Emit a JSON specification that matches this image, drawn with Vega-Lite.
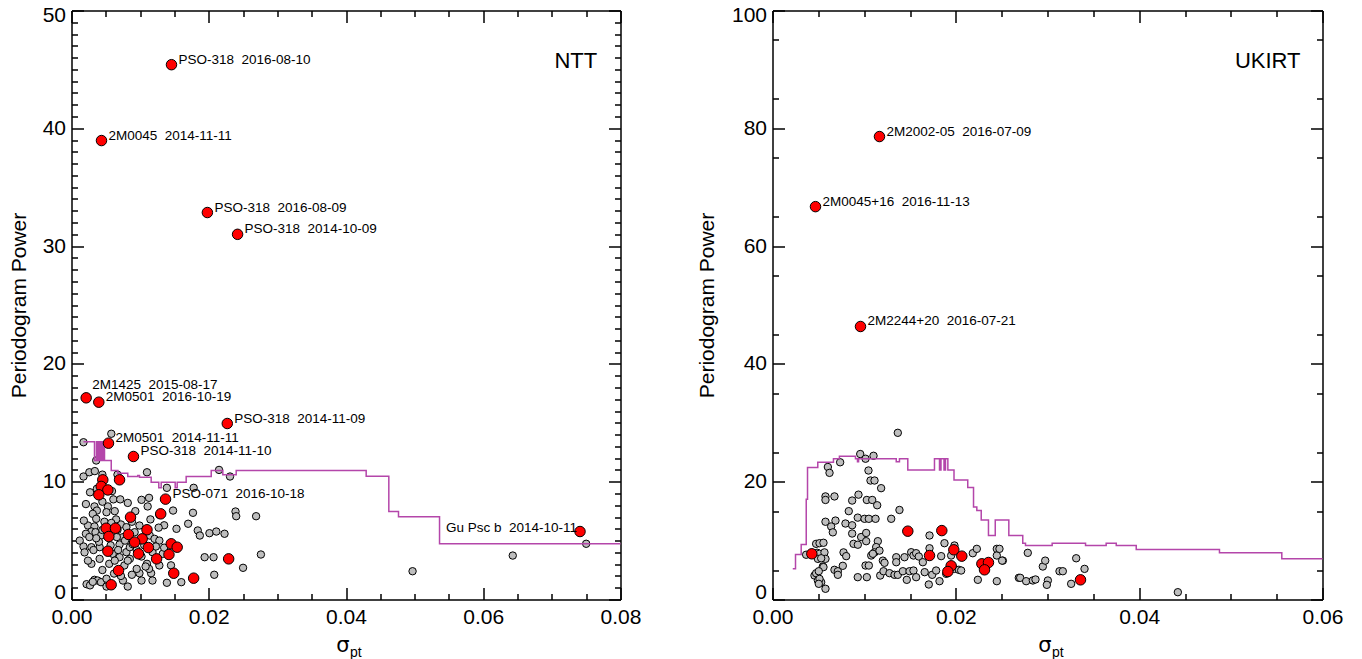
{
  "$schema": "https://vega.github.io/schema/vega-lite/v6.json",
  "background": "white",
  "autosize": {"type": "pad"},
  "padding": {"left": 8.5, "top": 4.5, "right": 0, "bottom": 0},
  "bounds": "flush",
  "spacing": 152,
  "config": {
    "view": {"stroke": null},
    "font": "Liberation Sans",
    "axis": {
      "grid": false,
      "domainColor": "#000",
      "domainWidth": 1.5,
      "tickColor": "#000",
      "tickWidth": 1.5,
      "labelColor": "#000",
      "labelFont": "Liberation Sans",
      "labelFontSize": 21,
      "titleColor": "#000",
      "titleFont": "Liberation Sans",
      "titleFontSize": 21,
      "titleFontWeight": "normal"
    }
  },
  "datasets": {
    "ntt_gray": [
      {"s":0.00175,"p":13.35},{"s":0.0058,"p":14.07},{"s":0.0036,"p":11.8},{"s":0.00175,"p":10.44},{"s":0.0026,"p":10.8},{"s":0.0034,"p":10.9},{"s":0.0067,"p":10.6},{"s":0.011,"p":10.8},{"s":0.0215,"p":11.0},{"s":0.0231,"p":10.44},{"s":0.0139,"p":9.48},{"s":0.0178,"p":9.48},{"s":0.0059,"p":9.2},{"s":0.0061,"p":8.5},{"s":0.0071,"p":8.5},{"s":0.0102,"p":8.46},{"s":0.0113,"p":8.63},{"s":0.0111,"p":7.9},{"s":0.0148,"p":7.55},{"s":0.0177,"p":7.36},{"s":0.0239,"p":7.47},{"s":0.024,"p":7.07},{"s":0.0269,"p":7.07},{"s":0.0128,"p":7.19},{"s":0.00335,"p":7.9},{"s":0.0037,"p":7.55},{"s":0.0031,"p":7.27},{"s":0.0053,"p":7.9},{"s":0.0051,"p":7.41},{"s":0.0036,"p":6.85},{"s":0.0024,"p":6.28},{"s":0.00335,"p":6.2},{"s":0.0029,"p":5.77},{"s":0.0021,"p":5.58},{"s":0.0035,"p":5.71},{"s":0.0043,"p":5.43},{"s":0.0072,"p":6.37},{"s":0.008,"p":6.14},{"s":0.0099,"p":6.28},{"s":0.0092,"p":5.71},{"s":0.0075,"p":5.29},{"s":0.0114,"p":5.43},{"s":0.0121,"p":5.15},{"s":0.0128,"p":5.0},{"s":0.0153,"p":6.0},{"s":0.017,"p":6.43},{"s":0.0184,"p":5.86},{"s":0.0187,"p":5.43},{"s":0.0201,"p":5.63},{"s":0.0211,"p":5.77},{"s":0.0223,"p":5.58},{"s":0.00175,"p":4.5},{"s":0.0029,"p":4.44},{"s":0.0041,"p":4.44},{"s":0.007,"p":4.67},{"s":0.006,"p":3.88},{"s":0.008,"p":4.02},{"s":0.0085,"p":4.44},{"s":0.007,"p":3.59},{"s":0.0085,"p":3.45},{"s":0.0102,"p":3.65},{"s":0.0118,"p":4.02},{"s":0.0133,"p":3.88},{"s":0.011,"p":3.03},{"s":0.0128,"p":2.89},{"s":0.0194,"p":3.59},{"s":0.0207,"p":3.59},{"s":0.0276,"p":3.82},{"s":0.025,"p":2.69},{"s":0.0029,"p":3.03},{"s":0.0041,"p":3.45},{"s":0.0055,"p":3.03},{"s":0.0077,"p":2.89},{"s":0.00335,"p":1.67},{"s":0.0038,"p":1.61},{"s":0.0043,"p":1.47},{"s":0.0051,"p":1.76},{"s":0.0075,"p":1.61},{"s":0.0082,"p":1.1},{"s":0.0099,"p":2.23},{"s":0.0102,"p":1.61},{"s":0.0116,"p":2.23},{"s":0.0118,"p":1.61},{"s":0.0139,"p":1.42},{"s":0.016,"p":1.47},{"s":0.0208,"p":2.1},{"s":0.0051,"p":1.1},{"s":0.0497,"p":2.4},{"s":0.0643,"p":3.73},{"s":0.075,"p":4.73},{"s":0.0012,"p":5.0},{"s":0.0018,"p":6.7},{"s":0.0024,"p":3.3},{"s":0.0045,"p":2.5},{"s":0.0062,"p":2.2},{"s":0.0066,"p":5.3},{"s":0.0088,"p":6.6},{"s":0.0095,"p":4.2},{"s":0.0106,"p":4.6},{"s":0.0135,"p":6.3},{"s":0.0145,"p":2.9},{"s":0.0095,"p":2.6},{"s":0.0065,"p":6.8},{"s":0.0048,"p":6.6},{"s":0.004,"p":4.9},{"s":0.0057,"p":4.6},{"s":0.0027,"p":9.1},{"s":0.0045,"p":10.6},
      {"s":0.0022,"p":1.3},{"s":0.0027,"p":1.2},{"s":0.0031,"p":1.5},{"s":0.0082,"p":3.3},{"s":0.0113,"p":2.6},{"s":0.0058,"p":6.5},{"s":0.0067,"p":5.9},{"s":0.0078,"p":5.0},{"s":0.0089,"p":4.7},{"s":0.0068,"p":4.2},{"s":0.0045,"p":5.9},{"s":0.0036,"p":5.2},{"s":0.0032,"p":4.2},{"s":0.0026,"p":5.3},{"s":0.0019,"p":4.0},{"s":0.0063,"p":3.3},{"s":0.0072,"p":2.0},{"s":0.0088,"p":2.1},{"s":0.0108,"p":2.8},{"s":0.0123,"p":4.5},{"s":0.0135,"p":4.4},{"s":0.0127,"p":6.1},{"s":0.0115,"p":6.8},{"s":0.0093,"p":7.5},{"s":0.0082,"p":8.2},{"s":0.0063,"p":7.5},{"s":0.0045,"p":8.3},{"s":0.0037,"p":9.4},{"s":0.0021,"p":8.1}
    ],
    "ntt_red": [
      {"s":0.01457,"p":45.4,"label":"PSO-318\u00a0 2016-08-10"},
      {"s":0.00437,"p":38.96,"label":"2M0045\u00a0 2014-11-11"},
      {"s":0.0198,"p":32.85,"label":"PSO-318\u00a0 2016-08-09"},
      {"s":0.0242,"p":31.0,"label":"PSO-318\u00a0 2014-10-09"},
      {"s":0.00214,"p":17.12,"label":"2M1425\u00a0 2015-08-17"},
      {"s":0.00398,"p":16.75,"label":"2M0501\u00a0 2016-10-19"},
      {"s":0.0227,"p":14.94,"label":"PSO-318\u00a0 2014-11-09"},
      {"s":0.00539,"p":13.27,"label":"2M0501\u00a0 2014-11-11"},
      {"s":0.00903,"p":12.14,"label":"PSO-318\u00a0 2014-11-10"},
      {"s":0.0137,"p":8.52,"label":"PSO-071\u00a0 2016-10-18"},
      {"s":0.0741,"p":5.77,"label":"Gu Psc b\u00a0 2014-10-11"},
      {"s":0.00456,"p":10.16},{"s":0.007,"p":10.16},{"s":0.00433,"p":9.6},{"s":0.0053,"p":9.3},{"s":0.00398,"p":8.89},{"s":0.013,"p":7.27},{"s":0.0086,"p":6.99},{"s":0.00505,"p":6.05},{"s":0.0064,"p":6.05},{"s":0.011,"p":5.92},{"s":0.00544,"p":5.35},{"s":0.0083,"p":5.52},{"s":0.0103,"p":5.15},{"s":0.0092,"p":4.87},{"s":0.01453,"p":4.73},{"s":0.0154,"p":4.44},{"s":0.0112,"p":4.41},{"s":0.0053,"p":4.1},{"s":0.00976,"p":3.88},{"s":0.0142,"p":3.82},{"s":0.0124,"p":3.45},{"s":0.0229,"p":3.45},{"s":0.00685,"p":2.46},{"s":0.0149,"p":2.23},{"s":0.0178,"p":1.81},{"s":0.00578,"p":1.25}
    ],
    "ntt_line": [
      {"s":0.00175,"p":13.4},{"s":0.00335,"p":11.8},{"s":0.00364,"p":13.4},{"s":0.00383,"p":11.8},{"s":0.004,"p":13.4},{"s":0.00415,"p":11.8},{"s":0.0043,"p":13.4},{"s":0.00444,"p":11.8},{"s":0.00459,"p":13.4},{"s":0.00481,"p":11.8},{"s":0.00579,"p":10.95},{"s":0.00675,"p":10.72},{"s":0.0082,"p":10.44},{"s":0.00966,"p":10.53},{"s":0.00991,"p":10.38},{"s":0.01161,"p":9.96},{"s":0.01272,"p":9.48},{"s":0.01307,"p":9.96},{"s":0.01511,"p":9.48},{"s":0.0154,"p":9.96},{"s":0.01671,"p":10.44},{"s":0.02036,"p":10.95},{"s":0.02205,"p":10.6},{"s":0.024,"p":10.95},{"s":0.04294,"p":10.47},{"s":0.04624,"p":7.47},{"s":0.04765,"p":7.02},{"s":0.05363,"p":4.73},{"s":0.08,"p":4.73}
    ],
    "ntt_name": [{"s":0.0766,"p":45.75,"name":"NTT"}],
    "ukirt_gray": [
      {"s":0.01367,"p":28.3},{"s":0.00957,"p":24.7},{"s":0.01015,"p":23.9},{"s":0.01102,"p":24.4},{"s":0.00604,"p":22.5},{"s":0.00622,"p":21.5},{"s":0.00738,"p":23.3},{"s":0.01047,"p":21.9},{"s":0.01069,"p":20.2},{"s":0.01113,"p":20.2},{"s":0.01185,"p":18.9},{"s":0.00578,"p":17.5},{"s":0.00578,"p":16.9},{"s":0.00676,"p":17.5},{"s":0.00869,"p":16.8},{"s":0.00938,"p":17.8},{"s":0.01029,"p":16.9},{"s":0.01088,"p":16.9},{"s":0.01142,"p":16.0},{"s":0.01385,"p":15.2},{"s":0.00832,"p":15.0},{"s":0.01295,"p":13.7},{"s":0.00578,"p":13.2},{"s":0.00687,"p":13.4},{"s":0.0064,"p":12.4},{"s":0.00658,"p":11.4},{"s":0.00796,"p":12.9},{"s":0.00869,"p":12.6},{"s":0.0093,"p":13.9},{"s":0.01004,"p":13.7},{"s":0.01051,"p":13.7},{"s":0.01124,"p":13.7},{"s":0.00869,"p":11.2},{"s":0.00967,"p":10.6},{"s":0.01022,"p":11.3},{"s":0.01022,"p":9.9},{"s":0.00884,"p":9.45},{"s":0.00931,"p":9.3},{"s":0.01149,"p":9.9},{"s":0.01131,"p":8.9},{"s":0.01113,"p":8.0},{"s":0.01077,"p":7.47},{"s":0.01095,"p":7.76},{"s":0.01167,"p":8.3},{"s":0.00775,"p":8.0},{"s":0.00804,"p":7.36},{"s":0.00476,"p":9.45},{"s":0.00513,"p":9.56},{"s":0.00556,"p":9.63},{"s":0.00367,"p":7.6},{"s":0.00487,"p":7.93},{"s":0.00513,"p":7.76},{"s":0.00495,"p":6.9},{"s":0.00567,"p":8.0},{"s":0.00578,"p":6.9},{"s":0.00531,"p":7.0},{"s":0.00549,"p":5.6},{"s":0.00556,"p":5.5},{"s":0.00458,"p":4.07},{"s":0.00476,"p":4.46},{"s":0.00505,"p":4.8},{"s":0.00495,"p":3.23},{"s":0.00531,"p":2.94},{"s":0.00513,"p":3.5},{"s":0.00578,"p":1.82},{"s":0.00505,"p":2.66},{"s":0.00676,"p":5.04},{"s":0.00713,"p":4.8},{"s":0.00713,"p":4.19},{"s":0.00767,"p":5.72},{"s":0.0093,"p":3.79},{"s":0.01029,"p":3.79},{"s":0.01015,"p":5.77},{"s":0.01051,"p":5.77},{"s":0.01204,"p":6.6},{"s":0.01222,"p":6.23},{"s":0.01175,"p":4.07},{"s":0.01211,"p":4.8},{"s":0.01276,"p":4.47},{"s":0.01331,"p":4.19},{"s":0.01367,"p":4.19},{"s":0.01422,"p":4.8},{"s":0.01465,"p":3.34},{"s":0.01495,"p":4.8},{"s":0.01538,"p":4.92},{"s":0.01567,"p":3.79},{"s":0.0166,"p":4.64},{"s":0.01705,"p":2.55},{"s":0.01742,"p":4.19},{"s":0.01785,"p":4.92},{"s":0.01822,"p":3.11},{"s":0.01895,"p":4.36},{"s":0.01985,"p":5.2},{"s":0.02033,"p":5.04},{"s":0.02058,"p":4.92},{"s":0.0224,"p":3.34},{"s":0.02447,"p":3.11},{"s":0.02687,"p":3.68},{"s":0.0135,"p":7.18},{"s":0.0135,"p":6.33},{"s":0.0144,"p":7.18},{"s":0.01513,"p":8.03},{"s":0.01538,"p":7.47},{"s":0.01567,"p":7.86},{"s":0.01596,"p":7.3},{"s":0.0164,"p":6.33},{"s":0.01713,"p":10.87},{"s":0.01713,"p":8.7},{"s":0.0184,"p":7.36},{"s":0.01876,"p":9.56},{"s":0.01985,"p":9.17},{"s":0.01949,"p":7.47},{"s":0.02185,"p":7.86},{"s":0.02229,"p":8.6},{"s":0.02447,"p":8.6},{"s":0.02447,"p":7.47},{"s":0.02513,"p":6.6},{"s":0.02476,"p":8.6},{"s":0.02505,"p":6.6},{"s":0.02785,"p":7.92},{"s":0.02702,"p":3.68},{"s":0.02767,"p":3.11},{"s":0.0284,"p":3.23},{"s":0.02869,"p":3.4},{"s":0.02949,"p":5.6},{"s":0.02975,"p":6.6},{"s":0.03004,"p":3.23},{"s":0.02993,"p":2.49},{"s":0.03131,"p":4.8},{"s":0.03167,"p":4.8},{"s":0.03258,"p":2.66},{"s":0.03313,"p":7.0},{"s":0.03404,"p":5.2},{"s":0.04422,"p":1.24}
    ],
    "ukirt_red": [
      {"s":0.01167,"p":78.6,"label":"2M2002-05\u00a0 2016-07-09"},
      {"s":0.00469,"p":66.7,"label":"2M0045+16\u00a0 2016-11-13"},
      {"s":0.0096,"p":46.35,"label":"2M2244+20\u00a0 2016-07-21"},
      {"s":0.00429,"p":7.76},{"s":0.01476,"p":11.6},{"s":0.01847,"p":11.7},{"s":0.01713,"p":7.47},{"s":0.01978,"p":8.44},{"s":0.02065,"p":7.36},{"s":0.01949,"p":5.72},{"s":0.01913,"p":4.75},{"s":0.02284,"p":6.06},{"s":0.02356,"p":6.28},{"s":0.02313,"p":5.04},{"s":0.0336,"p":3.34}
    ],
    "ukirt_line": [
      {"s":0.00221,"p":5.2},{"s":0.00251,"p":7.64},{"s":0.00313,"p":9.34},{"s":0.00368,"p":17.0},{"s":0.00382,"p":22.4},{"s":0.00494,"p":23.3},{"s":0.00665,"p":23.9},{"s":0.0073,"p":24.3},{"s":0.00905,"p":23.9},{"s":0.00927,"p":23.4},{"s":0.00939,"p":23.9},{"s":0.0135,"p":23.4},{"s":0.01385,"p":23.9},{"s":0.01476,"p":22.0},{"s":0.01767,"p":23.9},{"s":0.01822,"p":22.0},{"s":0.01838,"p":23.9},{"s":0.01871,"p":22.0},{"s":0.01887,"p":23.9},{"s":0.01913,"p":22.0},{"s":0.0198,"p":20.3},{"s":0.0213,"p":19.0},{"s":0.02193,"p":15.7},{"s":0.02229,"p":15.1},{"s":0.02277,"p":13.5},{"s":0.02356,"p":10.87},{"s":0.0243,"p":13.5},{"s":0.02578,"p":10.87},{"s":0.0273,"p":9.56},{"s":0.0276,"p":9.17},{"s":0.03051,"p":9.56},{"s":0.03415,"p":9.17},{"s":0.0364,"p":9.56},{"s":0.0375,"p":9.17},{"s":0.03968,"p":8.49},{"s":0.04876,"p":7.92},{"s":0.05556,"p":6.9},{"s":0.06,"p":6.9}
    ],
    "ukirt_name": [{"s":0.0576,"p":91.5,"name":"UKIRT"}]
  },
  "hconcat": [
    {
      "width": 549,
      "height": 589,
      "resolve": {"axis": {"x": "independent", "y": "independent"}},
      "layer": [
        {
          "data": {"name": "ntt_gray"},
          "mark": {"type": "circle", "fill": "#bebebe", "stroke": "#000", "strokeWidth": 1, "size": 55, "opacity": 1},
          "encoding": {
            "x": {"field": "s", "type": "quantitative", "scale": {"domain": [0, 0.08], "nice": false, "zero": false},
              "axis": {"orient": "bottom", "values": [0, 0.02, 0.04, 0.06, 0.08], "format": ".2f", "tickSize": -12, "labelPadding": 19, "labelFlush": false, "domain": true,
                "title": "σ", "titleFont": "DejaVu Sans", "titleFontSize": 21, "titleX": 271, "titleY": 52, "titleAlign": "center", "titleBaseline": "alphabetic"}},
            "y": {"field": "p", "type": "quantitative", "scale": {"domain": [0, 50], "nice": false},
              "axis": {"orient": "left", "values": [0, 10, 20, 30, 40, 50], "format": "d", "tickSize": -12, "labelPadding": 18, "labelFlush": false, "labelBaseline": "middle",
                "labelOffset": {"condition": [{"test": "datum.value === 50", "value": 5}, {"test": "datum.value === 0", "value": -7}], "value": 0},
                "domain": true,
                "title": "Periodogram Power", "titleX": -52, "titleY": 294.5, "titleAngle": -90, "titleAlign": "center", "titleBaseline": "middle"}}
          }
        },
        {
          "data": {"name": "ntt_line"},
          "mark": {"type": "line", "interpolate": "step-after", "color": "#b446aa", "strokeWidth": 1.5},
          "encoding": {
            "x": {"field": "s", "type": "quantitative", "scale": {"domain": [0, 0.08], "nice": false, "zero": false},
              "axis": {"orient": "bottom", "values": [0.005, 0.01, 0.015, 0.025, 0.03, 0.035, 0.045, 0.05, 0.055, 0.065, 0.07, 0.075], "tickSize": -6, "labels": false, "domain": false,
                "title": "pt", "titleFontSize": 14, "titleX": 278, "titleY": 57, "titleAlign": "left", "titleBaseline": "alphabetic"}},
            "y": {"field": "p", "type": "quantitative", "scale": {"domain": [0, 50], "nice": false},
              "axis": {"orient": "left", "values": [1,2,3,4,5,6,7,8,9,11,12,13,14,15,16,17,18,19,21,22,23,24,25,26,27,28,29,31,32,33,34,35,36,37,38,39,41,42,43,44,45,46,47,48,49], "tickSize": -6, "labels": false, "domain": false, "title": null}}
          }
        },
        {
          "data": {"name": "ntt_red"},
          "mark": {"type": "circle", "fill": "#ff0000", "stroke": "#000", "strokeWidth": 1, "size": 110, "opacity": 1},
          "encoding": {
            "x": {"field": "s", "type": "quantitative", "scale": {"domain": [0, 0.08], "nice": false, "zero": false},
              "axis": {"orient": "top", "values": [0, 0.02, 0.04, 0.06, 0.08], "tickSize": -12, "labels": false, "domain": true, "title": null}},
            "y": {"field": "p", "type": "quantitative", "scale": {"domain": [0, 50], "nice": false},
              "axis": {"orient": "right", "values": [0, 10, 20, 30, 40, 50], "tickSize": -12, "labels": false, "domain": true, "title": null}}
          }
        },
        {
          "data": {"name": "ntt_red"},
          "transform": [{"filter": "datum.label && indexof(datum.label, 'Gu Psc') < 0 && indexof(datum.label, '2M1425') < 0"}],
          "mark": {"type": "text", "align": "left", "baseline": "middle", "dx": 7, "dy": -5, "font": "Liberation Sans", "fontSize": 13.5, "color": "#000"},
          "encoding": {
            "x": {"field": "s", "type": "quantitative", "scale": {"domain": [0, 0.08], "nice": false, "zero": false},
              "axis": {"orient": "top", "values": [0.005, 0.01, 0.015, 0.025, 0.03, 0.035, 0.045, 0.05, 0.055, 0.065, 0.07, 0.075], "tickSize": -6, "labels": false, "domain": false, "title": null}},
            "y": {"field": "p", "type": "quantitative", "scale": {"domain": [0, 50], "nice": false},
              "axis": {"orient": "right", "values": [1,2,3,4,5,6,7,8,9,11,12,13,14,15,16,17,18,19,21,22,23,24,25,26,27,28,29,31,32,33,34,35,36,37,38,39,41,42,43,44,45,46,47,48,49], "tickSize": -6, "labels": false, "domain": false, "title": null}},
            "text": {"field": "label"}
          }
        },
        {
          "data": {"name": "ntt_red"},
          "transform": [{"filter": "datum.label && indexof(datum.label, '2M1425') >= 0"}],
          "mark": {"type": "text", "align": "left", "baseline": "middle", "dx": 6, "dy": -13, "font": "Liberation Sans", "fontSize": 13.5, "color": "#000"},
          "encoding": {
            "x": {"field": "s", "type": "quantitative", "scale": {"domain": [0, 0.08], "nice": false, "zero": false}, "axis": null},
            "y": {"field": "p", "type": "quantitative", "scale": {"domain": [0, 50], "nice": false}, "axis": null},
            "text": {"field": "label"}
          }
        },
        {
          "data": {"name": "ntt_red"},
          "transform": [{"filter": "datum.label && indexof(datum.label, 'Gu Psc') >= 0"}],
          "mark": {"type": "text", "align": "right", "baseline": "middle", "dx": -3, "dy": -4, "font": "Liberation Sans", "fontSize": 13.5, "color": "#000"},
          "encoding": {
            "x": {"field": "s", "type": "quantitative", "scale": {"domain": [0, 0.08], "nice": false, "zero": false}, "axis": null},
            "y": {"field": "p", "type": "quantitative", "scale": {"domain": [0, 50], "nice": false}, "axis": null},
            "text": {"field": "label"}
          }
        },
        {
          "data": {"name": "ntt_name"},
          "mark": {"type": "text", "align": "right", "baseline": "middle", "font": "Liberation Sans", "fontSize": 22, "color": "#000"},
          "encoding": {
            "x": {"field": "s", "type": "quantitative", "scale": {"domain": [0, 0.08], "nice": false, "zero": false}, "axis": null},
            "y": {"field": "p", "type": "quantitative", "scale": {"domain": [0, 50], "nice": false}, "axis": null},
            "text": {"field": "name"}
          }
        }
      ]
    },
    {
      "width": 550,
      "height": 589,
      "resolve": {"axis": {"x": "independent", "y": "independent"}},
      "layer": [
        {
          "data": {"name": "ukirt_gray"},
          "mark": {"type": "circle", "fill": "#bebebe", "stroke": "#000", "strokeWidth": 1, "size": 55, "opacity": 1},
          "encoding": {
            "x": {"field": "s", "type": "quantitative", "scale": {"domain": [0, 0.06], "nice": false, "zero": false},
              "axis": {"orient": "bottom", "values": [0, 0.02, 0.04, 0.06], "format": ".2f", "tickSize": -12, "labelPadding": 19, "labelFlush": false, "domain": true,
                "title": "σ", "titleFont": "DejaVu Sans", "titleFontSize": 21, "titleX": 272, "titleY": 52, "titleAlign": "center", "titleBaseline": "alphabetic"}},
            "y": {"field": "p", "type": "quantitative", "scale": {"domain": [0, 100], "nice": false},
              "axis": {"orient": "left", "values": [0, 20, 40, 60, 80, 100], "format": "d", "tickSize": -12, "labelPadding": 18, "labelFlush": false, "labelBaseline": "middle",
                "labelOffset": {"condition": [{"test": "datum.value === 100", "value": 5}, {"test": "datum.value === 0", "value": -7}], "value": 0},
                "domain": true,
                "title": "Periodogram Power", "titleX": -65, "titleY": 294.5, "titleAngle": -90, "titleAlign": "center", "titleBaseline": "middle"}}
          }
        },
        {
          "data": {"name": "ukirt_line"},
          "mark": {"type": "line", "interpolate": "step-after", "color": "#b446aa", "strokeWidth": 1.5},
          "encoding": {
            "x": {"field": "s", "type": "quantitative", "scale": {"domain": [0, 0.06], "nice": false, "zero": false},
              "axis": {"orient": "bottom", "values": [0.005, 0.01, 0.015, 0.025, 0.03, 0.035, 0.045, 0.05, 0.055], "tickSize": -6, "labels": false, "domain": false,
                "title": "pt", "titleFontSize": 14, "titleX": 279, "titleY": 57, "titleAlign": "left", "titleBaseline": "alphabetic"}},
            "y": {"field": "p", "type": "quantitative", "scale": {"domain": [0, 100], "nice": false},
              "axis": {"orient": "left", "values": [5, 15, 25, 35, 45, 55, 65, 75, 85, 95], "tickSize": -6, "labels": false, "domain": false, "title": null}}
          }
        },
        {
          "data": {"name": "ukirt_red"},
          "mark": {"type": "circle", "fill": "#ff0000", "stroke": "#000", "strokeWidth": 1, "size": 110, "opacity": 1},
          "encoding": {
            "x": {"field": "s", "type": "quantitative", "scale": {"domain": [0, 0.06], "nice": false, "zero": false},
              "axis": {"orient": "top", "values": [0, 0.02, 0.04, 0.06], "tickSize": -12, "labels": false, "domain": true, "title": null}},
            "y": {"field": "p", "type": "quantitative", "scale": {"domain": [0, 100], "nice": false},
              "axis": {"orient": "right", "values": [0, 20, 40, 60, 80, 100], "tickSize": -12, "labels": false, "domain": true, "title": null}}
          }
        },
        {
          "data": {"name": "ukirt_red"},
          "transform": [{"filter": "datum.label"}],
          "mark": {"type": "text", "align": "left", "baseline": "middle", "dx": 7, "dy": -5, "font": "Liberation Sans", "fontSize": 13.5, "color": "#000"},
          "encoding": {
            "x": {"field": "s", "type": "quantitative", "scale": {"domain": [0, 0.06], "nice": false, "zero": false},
              "axis": {"orient": "top", "values": [0.005, 0.01, 0.015, 0.025, 0.03, 0.035, 0.045, 0.05, 0.055], "tickSize": -6, "labels": false, "domain": false, "title": null}},
            "y": {"field": "p", "type": "quantitative", "scale": {"domain": [0, 100], "nice": false},
              "axis": {"orient": "right", "values": [5, 15, 25, 35, 45, 55, 65, 75, 85, 95], "tickSize": -6, "labels": false, "domain": false, "title": null}},
            "text": {"field": "label"}
          }
        },
        {
          "data": {"name": "ukirt_name"},
          "mark": {"type": "text", "align": "right", "baseline": "middle", "font": "Liberation Sans", "fontSize": 22, "color": "#000"},
          "encoding": {
            "x": {"field": "s", "type": "quantitative", "scale": {"domain": [0, 0.06], "nice": false, "zero": false}, "axis": null},
            "y": {"field": "p", "type": "quantitative", "scale": {"domain": [0, 100], "nice": false}, "axis": null},
            "text": {"field": "name"}
          }
        }
      ]
    }
  ]
}
